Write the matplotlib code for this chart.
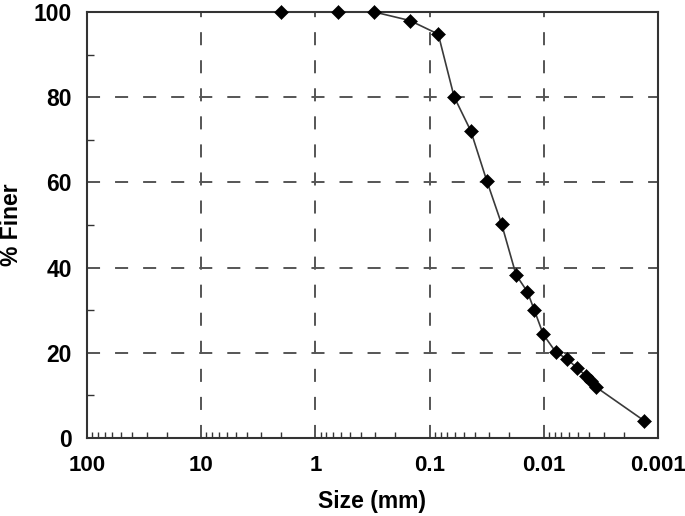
import matplotlib
matplotlib.use("Agg")
import matplotlib.pyplot as plt
from matplotlib.ticker import LogLocator, FixedLocator, NullFormatter, FixedFormatter

# Data
size_mm = [2.0, 0.63, 0.305, 0.149, 0.084, 0.061, 0.0436, 0.0316, 0.0234,
           0.0175, 0.0139, 0.0121, 0.0101, 0.00787, 0.00623, 0.00509,
           0.00427, 0.00388, 0.00351, 0.00133]
pct_finer = [100, 100, 100, 98.0, 94.8, 80.1, 72.1, 60.4, 50.2,
             38.3, 34.3, 30.0, 24.3, 20.2, 18.5, 16.4,
             14.6, 13.4, 12.0, 4.1]

x_ticks = [100, 10, 1, 0.1, 0.01, 0.001]
x_ticklabels = ["100", "10", "1", "0.1", "0.01", "0.001"]
y_ticks = [0, 20, 40, 60, 80, 100]

plt.rcParams['font.family'] = ['Liberation Sans', 'DejaVu Sans']
plt.rcParams['lines.scale_dashes'] = False

fig = plt.figure(figsize=(6.85, 5.16), dpi=100)
ax = fig.add_axes([87/685, 1-438/516, (658-87)/685, (438-12)/516])

ax.plot(size_mm, pct_finer, color='#3a3a3a', lw=1.2, marker='D', ms=7.0,
        mfc='black', mec='black', mew=0.4, zorder=3, clip_on=False)

ax.set_xscale('log')
ax.set_xlim(100, 0.001)
ax.set_ylim(0, 100)

ax.xaxis.set_major_locator(FixedLocator(x_ticks))
ax.xaxis.set_major_formatter(FixedFormatter(x_ticklabels))
ax.xaxis.set_minor_locator(LogLocator(base=10, subs=range(2, 10), numticks=20))
ax.xaxis.set_minor_formatter(NullFormatter())
ax.yaxis.set_major_locator(FixedLocator(y_ticks))
ax.yaxis.set_minor_locator(FixedLocator([10, 30, 50, 70, 90]))

gridcol = '#555555'
ax.grid(True, which='major', color=gridcol, lw=1.4, linestyle=(0, (9.4, 10.8)))
ax.set_axisbelow(True)

ax.tick_params(which='both', direction='in', top=False, right=False, color='#333333')
ax.tick_params(axis='x', which='major', length=0, pad=12, labelsize=16)
ax.tick_params(axis='y', which='major', length=0, pad=11, labelsize=16.5)
ax.tick_params(axis='x', which='minor', length=4.5, width=1.0)
ax.tick_params(axis='y', which='minor', length=5, width=1.0)
for lab in ax.get_xticklabels() + ax.get_yticklabels():
    lab.set_fontweight('bold')

for s in ax.spines.values():
    s.set_linewidth(1.5)
    s.set_color('#333333')

ax.set_xlabel('Size (mm)', fontsize=16.5, fontweight='bold')
ax.set_ylabel('% Finer', fontsize=16.5, fontweight='bold')
ax.xaxis.set_label_coords(0.5, -0.122)
ax.yaxis.set_label_coords(-0.112, 0.5)

fig.savefig('out.png', dpi=100)
